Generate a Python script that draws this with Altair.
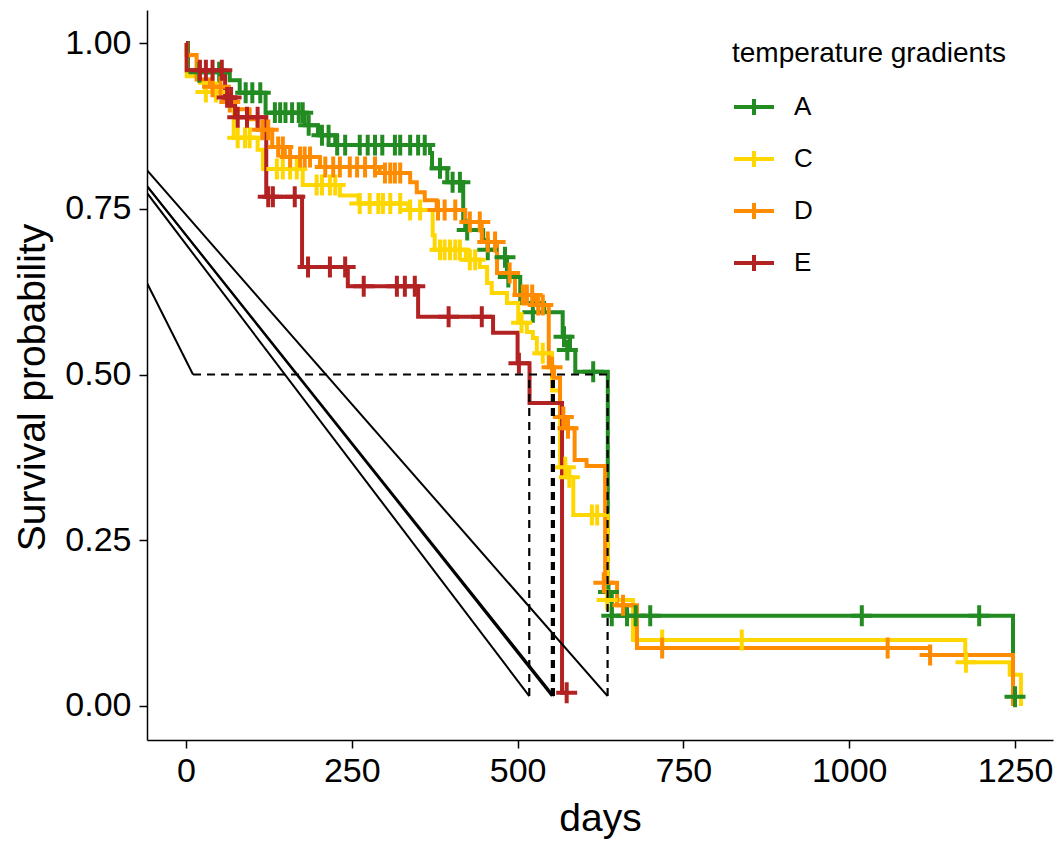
import altair as alt
import pandas as pd

groups = ["A", "C", "D", "E"]
colors = ["#228B22", "#FFD700", "#FF8C00", "#B22222"]

# Kaplan-Meier step curves (days, survival probability)
A_time = [0, 3, 66, 81, 120, 179, 199, 225, 368, 371, 394, 418, 421, 448, 455, 469, 484, 504, 540, 568, 579, 587, 636, 642, 1247, 1250]
A_surv = [1.0, 0.956, 0.944, 0.925, 0.895, 0.876, 0.861, 0.846, 0.834, 0.811, 0.79, 0.733, 0.718, 0.703, 0.688, 0.677, 0.647, 0.608, 0.594, 0.557, 0.537, 0.504, 0.172, 0.136, 0.014, 0.014]
C_time = [0, 1, 21, 29, 59, 72, 108, 116, 176, 232, 260, 335, 372, 375, 422, 443, 454, 461, 484, 501, 514, 523, 529, 552, 564, 574, 584, 636, 674, 1175, 1242, 1259]
C_surv = [1.0, 0.95, 0.94, 0.926, 0.914, 0.857, 0.839, 0.81, 0.786, 0.77, 0.758, 0.748, 0.71, 0.688, 0.673, 0.662, 0.638, 0.623, 0.608, 0.578, 0.564, 0.555, 0.532, 0.476, 0.36, 0.345, 0.288, 0.16, 0.0995, 0.066, 0.047, 0.0]
D_time = [0, 1, 16, 36, 59, 74, 96, 108, 130, 149, 202, 292, 338, 348, 360, 378, 421, 446, 469, 496, 526, 547, 555, 564, 571, 586, 604, 632, 650, 680, 1122, 1247]
D_surv = [1.0, 0.982, 0.945, 0.934, 0.911, 0.9, 0.885, 0.869, 0.843, 0.828, 0.813, 0.804, 0.79, 0.775, 0.763, 0.748, 0.73, 0.70, 0.653, 0.62, 0.605, 0.511, 0.495, 0.436, 0.419, 0.371, 0.362, 0.186, 0.152, 0.0875, 0.077, 0.0]
E_time = [0, 1, 59, 74, 121, 175, 244, 350, 463, 500, 518, 567, 574]
E_surv = [1.0, 0.959, 0.918, 0.888, 0.768, 0.662, 0.633, 0.587, 0.563, 0.517, 0.457, 0.02, 0.02]

# censoring marks
A_cens_time = [20, 50, 90, 100, 112, 134, 142, 150, 160, 170, 176, 185, 205, 215, 228, 240, 262, 274, 285, 296, 315, 323, 338, 350, 360, 383, 402, 413, 424, 455, 481, 486, 523, 570, 575, 614, 637, 642, 665, 678, 700, 1019, 1196, 1250]
A_cens_surv = [0.956, 0.956, 0.925, 0.925, 0.925, 0.895, 0.895, 0.895, 0.895, 0.895, 0.895, 0.876, 0.861, 0.861, 0.846, 0.846, 0.846, 0.846, 0.846, 0.846, 0.846, 0.846, 0.846, 0.846, 0.846, 0.811, 0.79, 0.79, 0.718, 0.688, 0.677, 0.647, 0.594, 0.557, 0.537, 0.504, 0.172, 0.136, 0.136, 0.136, 0.136, 0.136, 0.136, 0.014]
C_cens_time = [30, 45, 78, 89, 96, 137, 146, 157, 167, 197, 205, 217, 225, 262, 277, 290, 297, 308, 323, 338, 353, 383, 390, 398, 406, 413, 428, 436, 506, 538, 572, 578, 612, 620, 635, 718, 838, 1176]
C_cens_surv = [0.926, 0.926, 0.857, 0.857, 0.857, 0.81, 0.81, 0.81, 0.81, 0.786, 0.786, 0.786, 0.786, 0.758, 0.758, 0.758, 0.758, 0.758, 0.758, 0.748, 0.748, 0.688, 0.688, 0.688, 0.688, 0.688, 0.673, 0.673, 0.578, 0.532, 0.36, 0.345, 0.288, 0.288, 0.16, 0.0995, 0.0995, 0.066]
D_cens_time = [40, 52, 66, 115, 124, 139, 146, 157, 172, 179, 187, 210, 222, 232, 247, 258, 270, 285, 300, 308, 315, 323, 380, 390, 406, 428, 443, 455, 466, 488, 508, 514, 522, 531, 538, 552, 569, 576, 630, 659, 718, 1058, 1122]
D_cens_surv = [0.934, 0.934, 0.911, 0.869, 0.869, 0.843, 0.843, 0.828, 0.828, 0.828, 0.828, 0.813, 0.813, 0.813, 0.813, 0.813, 0.813, 0.813, 0.804, 0.804, 0.804, 0.804, 0.748, 0.748, 0.748, 0.73, 0.73, 0.70, 0.70, 0.653, 0.62, 0.62, 0.62, 0.605, 0.605, 0.511, 0.436, 0.419, 0.186, 0.152, 0.0875, 0.0875, 0.077]
E_cens_time = [21, 30, 40, 54, 62, 68, 78, 92, 108, 124, 131, 164, 184, 217, 240, 268, 318, 330, 345, 396, 446, 502, 574]
E_cens_surv = [0.959, 0.959, 0.959, 0.959, 0.918, 0.918, 0.888, 0.888, 0.888, 0.768, 0.768, 0.768, 0.662, 0.662, 0.662, 0.633, 0.633, 0.633, 0.633, 0.587, 0.587, 0.517, 0.02]

# median survival reference lines
median_days = [517.6, 551.7, 554.7, 635.7]
median_hline_start = [10.6]
median_hline_end = [635.7]
diag_x_start = [-100, -100, -100, -100, -100]
diag_y_start = [0.855, 0.836, 0.836, 0.828, 0.72]
diag_x_end = [635.7, 551.7, 554.7, 517.6, 10.6]
diag_y_end = [0.015, 0.015, 0.015, 0.015, 0.5]

series = {"A": (A_time, A_surv), "C": (C_time, C_surv), "D": (D_time, D_surv), "E": (E_time, E_surv)}
cens = {"A": (A_cens_time, A_cens_surv), "C": (C_cens_time, C_cens_surv),
        "D": (D_cens_time, D_cens_surv), "E": (E_cens_time, E_cens_surv)}

rows = []
for gi, g in enumerate(groups):
    for i, (t, s) in enumerate(zip(*series[g])):
        rows.append({"group": g, "gi": gi, "time": t, "surv": s, "i": i})
steps = pd.DataFrame(rows)

crows = []
for gi, g in enumerate(groups):
    for t, s in zip(*cens[g]):
        crows.append({"group": g, "gi": gi, "time": t, "surv": s})
cdf = pd.DataFrame(crows)

vdf = pd.DataFrame({"x": median_days, "y": [0.015] * len(median_days), "y2": [0.5] * len(median_days)})
hdf = pd.DataFrame({"x": median_hline_start, "x2": median_hline_end, "y": [0.5]})
ddf = pd.DataFrame({"x": diag_x_start, "y": diag_y_start, "x2": diag_x_end, "y2": diag_y_end})

FONT = "Liberation Sans"
xs = alt.Scale(domain=[-58.8, 1307.3], nice=False, zero=False)
ys = alt.Scale(domain=[-0.0513, 1.0498], nice=False, zero=False)
cs = alt.Scale(domain=groups, range=colors)

xaxis = alt.Axis(values=[0, 250, 500, 750, 1000, 1250], format="d", title="days", grid=False,
                 labelFontSize=34, titleFontSize=39, tickSize=8, tickWidth=1.5,
                 domainWidth=1.5, labelPadding=6, titlePadding=11, labelColor="black",
                 titleColor="black", domainColor="black", tickColor="black",
                 labelFont=FONT, titleFont=FONT, titleFontWeight="normal", labelFlush=False)
yaxis = alt.Axis(values=[0, 0.25, 0.5, 0.75, 1.0], format=".2f", title="Survival probability",
                 grid=False, labelFontSize=34, titleFontSize=39, tickSize=8, tickWidth=1.5,
                 domainWidth=1.5, labelPadding=8, titlePadding=12, titleY=377,
                 labelColor="black",
                 titleColor="black", domainColor="black", tickColor="black",
                 labelFont=FONT, titleFont=FONT, titleFontWeight="normal", labelFlush=False)

legend = alt.Legend(title="temperature gradients", orient="none", legendX=585, legendY=30,
                    symbolType="M-1,0H1M0,-0.4V0.4", symbolSize=1600, symbolStrokeWidth=4,
                    labelFontSize=26, titleFontSize=28, titleFontWeight="normal",
                    labelFont=FONT, titleFont=FONT, labelColor="black", titleColor="black",
                    rowPadding=14, titlePadding=17, labelOffset=18, padding=0,
                    titleLimit=500, labelLimit=200)

base = alt.Chart(steps)
lines = base.mark_line(interpolate="step-after", strokeWidth=4, clip=True).encode(
    x=alt.X("time:Q", scale=xs, axis=xaxis),
    y=alt.Y("surv:Q", scale=ys, axis=yaxis),
    color=alt.Color("group:N", scale=cs, legend=legend),
    detail="group:N",
    order="i:Q",
)

points = alt.Chart(cdf).mark_point(shape="M-1,0H1M0,-1V1", size=440, strokeWidth=4,
                                   filled=False, opacity=1, clip=True).encode(
    x=alt.X("time:Q", scale=xs),
    y=alt.Y("surv:Q", scale=ys),
    color=alt.Color("group:N", scale=cs, legend=legend),
)

vrules = alt.Chart(vdf).mark_rule(color="black", strokeWidth=2.2, strokeDash=[8, 6]).encode(
    x=alt.X("x:Q", scale=xs), y=alt.Y("y:Q", scale=ys), y2="y2:Q")
hrule = alt.Chart(hdf).mark_rule(color="black", strokeWidth=2.2, strokeDash=[8, 6]).encode(
    x=alt.X("x:Q", scale=xs), x2="x2:Q", y=alt.Y("y:Q", scale=ys))
drules = alt.Chart(ddf).mark_rule(color="black", strokeWidth=2, clip=True).encode(
    x=alt.X("x:Q", scale=xs), y=alt.Y("y:Q", scale=ys), x2="x2:Q", y2="y2:Q")

chart = alt.layer(lines, points, vrules, hrule, drules).properties(
    width=906, height=730,
    background="white",
    autosize=alt.AutoSizeParams(type="none"),
    padding={"left": 147, "top": 10, "right": 4, "bottom": 109},
).configure_view(strokeWidth=0, stroke="transparent")

chart.save("out.html", embed_options={"renderer": "svg", "actions": False})
